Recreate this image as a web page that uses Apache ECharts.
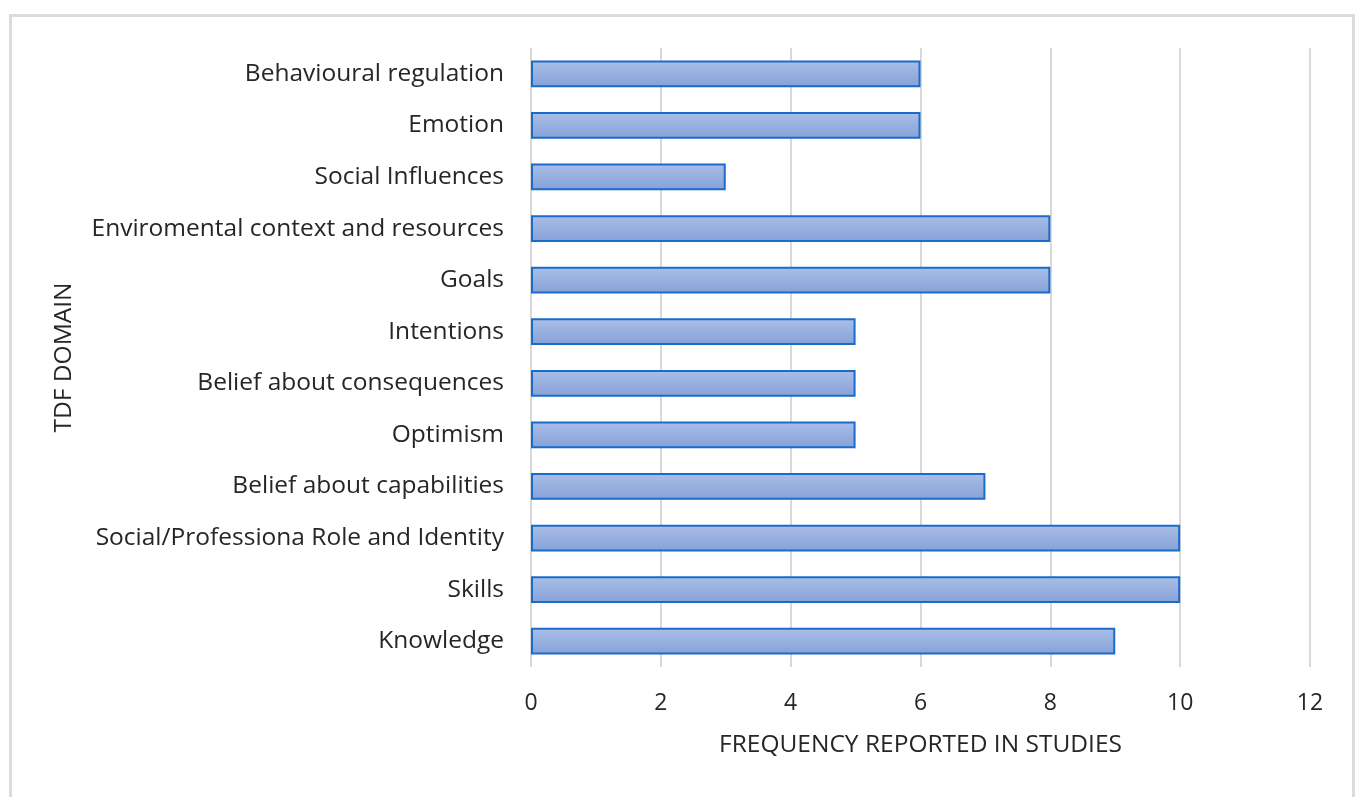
<!DOCTYPE html>
<html>
<head>
<meta charset="utf-8">
<script src="https://cdn.jsdelivr.net/npm/echarts@6/dist/echarts.min.js"></script>
<style>
  html, body { margin: 0; padding: 0; background: #fff; overflow: hidden; }
  #frame { position: absolute; left: 9px; top: 14px; width: 1346px; height: 800px; border: 3px solid #dcdcdc; box-sizing: border-box; }
  #main { position: absolute; left: 0; top: 0; width: 1362px; height: 797px; }
</style>
</head>
<body>
<div id="frame"></div>
<div id="main"></div>
<script>
// categories bottom -> top (ECharts category y axis starts at the bottom)
var domains = [
    'Knowledge',
    'Skills',
    'Social/Professiona Role and Identity',
    'Belief about capabilities',
    'Optimism',
    'Belief about consequences',
    'Intentions',
    'Goals',
    'Enviromental context and resources',
    'Social Influences',
    'Emotion',
    'Behavioural regulation'
];
var frequency = [9, 10, 10, 7, 5, 5, 5, 8, 8, 3, 6, 6];
var xTicks = [0, 2, 4, 6, 8, 10, 12];

var textColor = '#262626';
var fontFamily = '"Open Sans", sans-serif';

var option = {
    animation: false,
    textStyle: { fontFamily: fontFamily },
    grid: { left: 531, right: 52, top: 48, bottom: 130, containLabel: false },
    xAxis: {
        type: 'value',
        min: xTicks[0],
        max: xTicks[xTicks.length - 1],
        interval: xTicks[1] - xTicks[0],
        name: 'FREQUENCY REPORTED IN STUDIES',
        nameLocation: 'middle',
        nameGap: 66,
        nameTextStyle: { color: textColor, fontSize: 24.5, fontFamily: fontFamily },
        axisLine: { show: false },
        axisTick: { show: false },
        axisLabel: { color: textColor, fontSize: 23, margin: 25, fontFamily: fontFamily },
        splitLine: { show: true, lineStyle: { color: '#d9d9d9', width: 2 } }
    },
    yAxis: {
        type: 'category',
        data: domains,
        name: 'TDF DOMAIN',
        nameLocation: 'middle',
        nameGap: 454,
        nameRotate: 90,
        nameTextStyle: { color: textColor, fontSize: 24.5, fontFamily: fontFamily },
        axisLine: { show: false },
        axisTick: { show: false },
        axisLabel: { color: textColor, fontSize: 24.5, margin: 27, fontFamily: fontFamily },
        splitLine: { show: false }
    },
    series: [
        {
            name: 'Frequency',
            type: 'bar',
            data: frequency,
            barCategoryGap: '48%',
            itemStyle: {
                color: new echarts.graphic.LinearGradient(0, 0, 0, 1, [
                    { offset: 0, color: '#aabfe7' },
                    { offset: 1, color: '#86a1d8' }
                ]),
                borderColor: '#1a6ccb',
                borderWidth: 2
            }
        }
    ]
};

var myChart = echarts.init(document.getElementById('main'));
myChart.setOption(option);
</script>
</body>
</html>
